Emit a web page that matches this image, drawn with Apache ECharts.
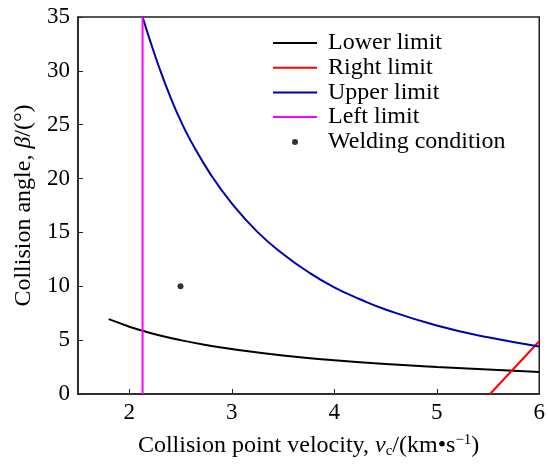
<!DOCTYPE html>
<html><head><meta charset="utf-8">
<script src="https://cdn.jsdelivr.net/npm/echarts@6/dist/echarts.min.js"></script>
<style>html,body{margin:0;padding:0;background:#fff}#c{width:548px;height:466px}</style>
</head><body><div id="c"></div>
<script>
// Data
const lowerX = [1.8, 1.9, 2.0, 2.13, 2.3, 2.5, 2.75, 3.0, 3.5, 4.0, 4.5, 5.0, 5.5, 6.0];
const lowerY = [6.95, 6.6, 6.25, 5.87, 5.43, 5.0, 4.55, 4.17, 3.57, 3.13, 2.78, 2.5, 2.27, 2.05];
const rightX = [5.52, 6.0];
const rightY = [0, 4.9];
const upperX = [2.13, 2.2, 2.3, 2.4, 2.5, 2.6, 2.8, 3.0, 3.25, 3.5, 3.75, 4.0, 4.25, 4.5, 5.0, 5.5, 6.0];
const upperY = [35.0, 32.9, 30.1, 27.6, 25.4, 23.5, 20.3, 17.7, 15.05, 13.0, 11.3, 9.9, 8.8, 7.85, 6.36, 5.26, 4.42];
const leftX = [2.13, 2.13];
const leftY = [0, 35];
const weldX = [2.5];
const weldY = [10];
const xTicks = [2, 3, 4, 5, 6];

const zip = (a, b) => a.map((v, i) => [v, b[i]]);
const FONT = 'Liberation Serif';
const chart = echarts.init(document.getElementById('c'));
chart.setOption({
  animation: false,
  backgroundColor: '#fff',
  grid: {left: 78, right: 3, top: 17, bottom: 72, show: true, borderColor: '#222', borderWidth: 1.5, backgroundColor: 'transparent'},
  xAxis: {
    type: 'value', min: 1.5, max: 6,
    axisLine: {lineStyle: {color: '#222', width: 1.5}},
    axisTick: {inside: true, length: 5, customValues: xTicks, lineStyle: {color: '#222'}},
    axisLabel: {customValues: xTicks, fontFamily: FONT, fontSize: 23, color: '#000', margin: 7},
    splitLine: {show: false},
    name: 'Collision point velocity, {i|v}{sub|c}/(km•s{sup|−1})',
    nameLocation: 'middle', nameGap: 38,
    nameTextStyle: {fontFamily: FONT, fontSize: 24, color: '#000',
      rich: {
        i: {fontFamily: FONT, fontSize: 24, fontStyle: 'italic', color: '#000'},
        sub: {fontFamily: FONT, fontSize: 15, color: '#000', padding: [12, 0, 0, 0]},
        sup: {fontFamily: FONT, fontSize: 15, color: '#000', padding: [0, 0, 11, 0]}
      }}
  },
  yAxis: {
    type: 'value', min: 0, max: 35, interval: 5,
    axisLine: {show: true, lineStyle: {color: '#222', width: 1.5}},
    axisTick: {show: true, inside: true, length: 5, lineStyle: {color: '#222'}},
    axisLabel: {fontFamily: FONT, fontSize: 23, color: '#000', margin: 8},
    splitLine: {show: false},
    name: 'Collision angle, {i|β}/(°)',
    nameLocation: 'middle', nameGap: 42, nameRotate: 90,
    nameTextStyle: {fontFamily: FONT, fontSize: 24, color: '#000',
      rich: {i: {fontFamily: FONT, fontSize: 24, fontStyle: 'italic', color: '#000'}}}
  },
  legend: [{
    data: ['Lower limit', 'Right limit', 'Upper limit', 'Left limit'],
    orient: 'vertical', left: 268, top: 26, itemWidth: 44, itemHeight: 2, itemGap: 0.7,
    icon: 'rect',
    textStyle: {fontFamily: FONT, fontSize: 24, color: '#000', lineHeight: 24, padding: [0, 0, 0, 6]}
  }, {
    data: [{name: 'Welding condition', icon: 'circle'}],
    orient: 'vertical', left: 287, top: 125, itemWidth: 6, itemHeight: 6,
    textStyle: {fontFamily: FONT, fontSize: 24, color: '#000', lineHeight: 24, padding: [0, 0, 0, 25]}
  }],
  series: [
    {name: 'Lower limit', type: 'line', data: zip(lowerX, lowerY), smooth: true, showSymbol: false, lineStyle: {color: '#000', width: 2}, itemStyle: {color: '#000'}},
    {name: 'Right limit', type: 'line', data: zip(rightX, rightY), showSymbol: false, lineStyle: {color: '#ff0000', width: 2}, itemStyle: {color: '#ff0000'}},
    {name: 'Upper limit', type: 'line', data: zip(upperX, upperY), smooth: true, showSymbol: false, lineStyle: {color: '#0000b4', width: 2}, itemStyle: {color: '#0000b4'}},
    {name: 'Left limit', type: 'line', data: zip(leftX, leftY), showSymbol: false, lineStyle: {color: '#ff00ff', width: 2}, itemStyle: {color: '#ff00ff'}},
    {name: 'Welding condition', type: 'scatter', data: zip(weldX, weldY), symbolSize: 6, itemStyle: {color: '#000'}}
  ]
});
</script></body></html>
